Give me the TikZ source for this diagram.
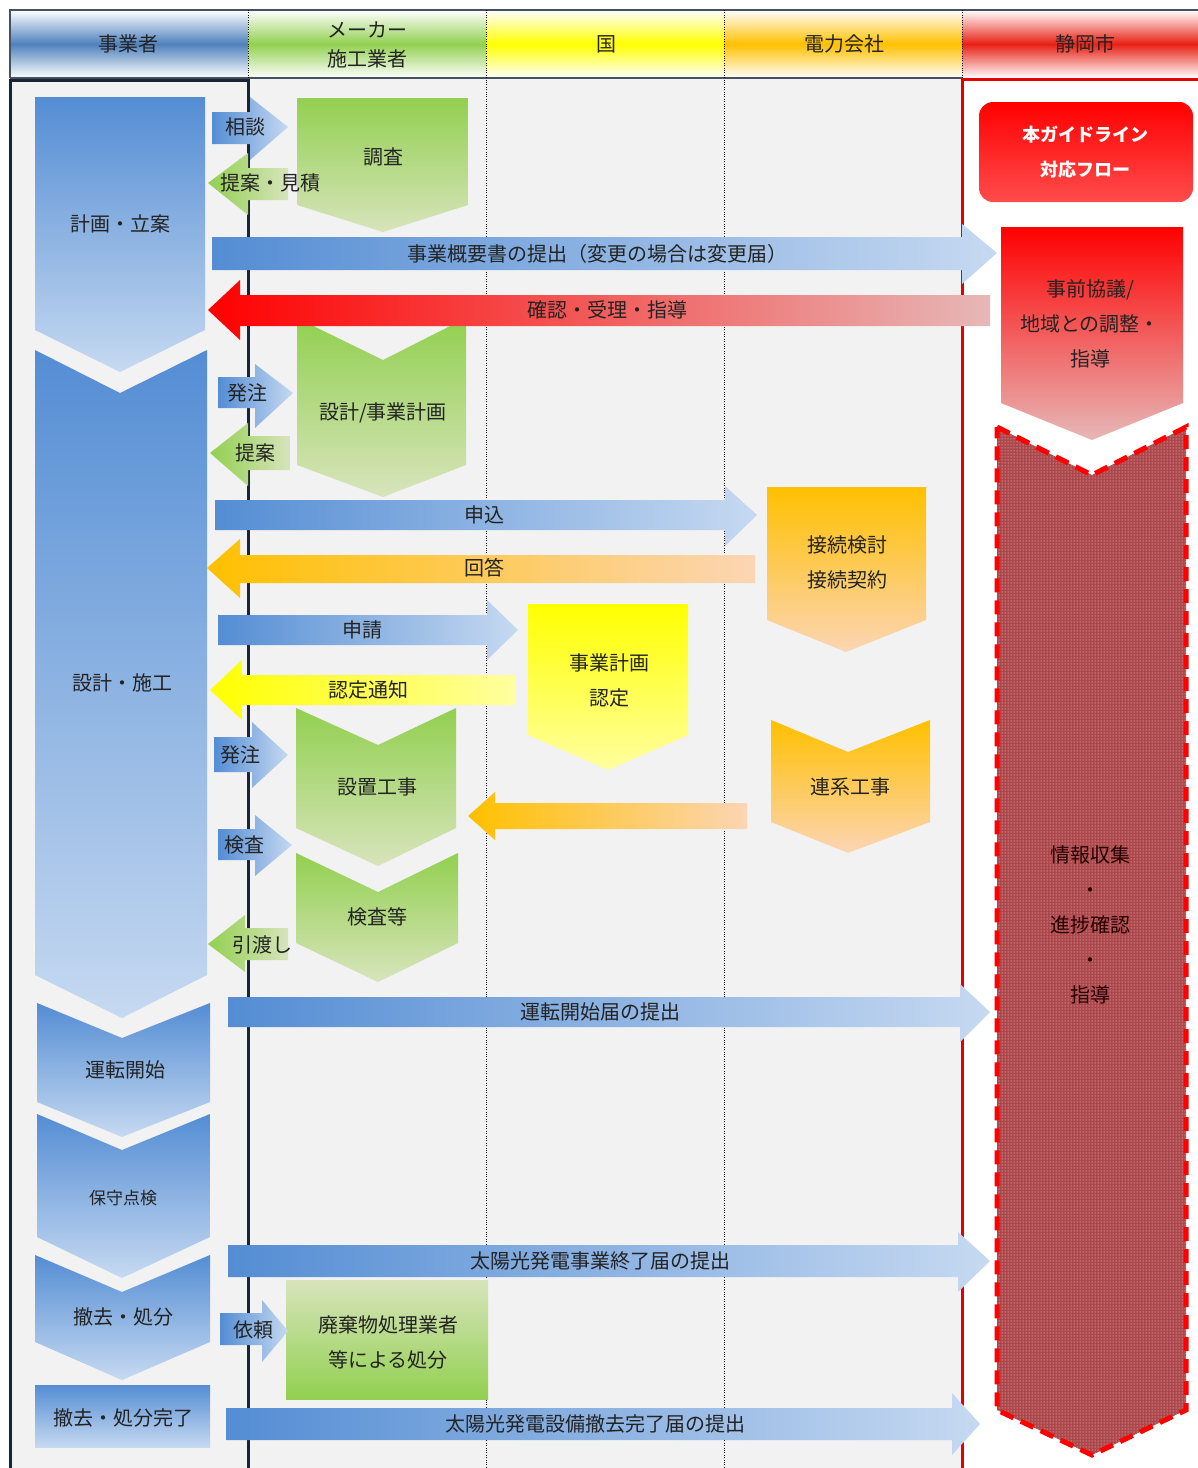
\documentclass[tikz,border=0pt]{standalone}
\usepackage{fontspec}
\setmainfont{Noto Sans CJK JP}
\usetikzlibrary{patterns}

\definecolor{bgray}{RGB}{242,242,242}
\definecolor{frame}{RGB}{23,37,55}
\definecolor{txt}{RGB}{35,35,35}
\definecolor{bblue}{RGB}{84,141,212}
\definecolor{blight}{RGB}{198,217,241}
\definecolor{hblue}{RGB}{79,129,189}
\definecolor{ggreen}{RGB}{146,208,80}
\definecolor{glight}{RGB}{216,228,188}
\definecolor{yyel}{RGB}{255,255,0}
\definecolor{ylight}{RGB}{255,255,160}
\definecolor{oorange}{RGB}{255,192,0}
\definecolor{olight}{RGB}{252,213,180}
\definecolor{rred}{RGB}{255,0,0}
\definecolor{rlight}{RGB}{230,184,183}
\definecolor{hred}{RGB}{232,32,20}
\definecolor{dotred}{RGB}{172,72,76}

\begin{document}
\begin{tikzpicture}[x=1pt,y=-1pt,
  every node/.style={text=txt, inner sep=0pt, align=center, font=\fontsize{20}{35}\selectfont},
  blueR/.style={left color=bblue, right color=blight},
  greenL/.style={left color=ggreen, right color=glight},
  yelL/.style={left color=yyel, right color=ylight},
  orangeL/.style={left color=oorange, right color=olight},
  redL/.style={left color=rred, right color=rlight},
  blueD/.style={top color=bblue, bottom color=blight},
  greenD/.style={top color=ggreen, bottom color=glight},
  yelD/.style={top color=yyel, bottom color=ylight},
  orangeD/.style={top color=oorange, bottom color=olight},
  redD/.style={top color=rred, bottom color=rlight},
  head/.style={top color=white, bottom color=white, middle color=#1}]
\useasboundingbox (0,0) rectangle (1198,1468);
\fill[white] (0,0) rectangle (1198,1468);
\fill[bgray] (10,78) rectangle (962,1468);

% header
\shade[head=hblue] (10,10) rectangle (248,78);
\shade[head=ggreen] (248,10) rectangle (486,78);
\shade[head=yyel] (486,10) rectangle (724,78);
\shade[head=oorange] (724,10) rectangle (962,78);
\shade[head=hred] (962,10) rectangle (1198,78);
\path[draw, line width=1.5pt, color=frame!80] (10,78) -- (10,10) -- (1198,10);
\path[draw, line width=1.5pt, color=frame!80] (10,78) -- (962,78);

\path (128,44) node (hJigyo) {事業者};
\path (367,45) node[font=\fontsize{20}{29}\selectfont] (hMaker) {メーカー\\施工業者};
\path (606,44) node (hKuni) {国};
\path (844,44) node (hDenryoku) {電力会社};
\path (1085,44) node (hShi) {静岡市};

% lanes
\path[draw, dotted] (248,10) -- (248,78);
\path[draw, dotted] (486,10) -- (486,1468);
\path[draw, dotted] (724,10) -- (724,1468);
\path[draw, dotted] (962,10) -- (962,78);
\path[draw, line width=3pt, color=frame] (10,1468) -- (10,80) -- (248,80) -- (248,1468);
\path[draw, line width=3pt, color=rred!90!black] (962,1468) -- (962,79) -- (1198,79);

% jigyosha
\shade[blueD] (35,97) -- (205,97) -- (205,330) -- (120,372) -- (35,330) -- cycle;
\shade[blueD] (35,350) -- (120,393) -- (207,350) -- (207,975) -- (122,1018) -- (35,975) -- cycle;
\shade[blueD] (37,1003) -- (122,1038) -- (210,1003) -- (210,1102) -- (122,1137) -- (37,1102) -- cycle;
\shade[blueD] (37,1114) -- (122,1150) -- (210,1114) -- (210,1237) -- (122,1278) -- (37,1237) -- cycle;
\shade[blueD] (35,1255) -- (122,1292) -- (210,1255) -- (210,1342) -- (122,1380) -- (35,1342) -- cycle;
\shade[blueD] (35,1385) rectangle (210,1447);

% maker
\shade[greenD] (297,98) -- (468,98) -- (468,205) -- (383,232) -- (297,205) -- cycle;
\shade[greenD] (297,318) -- (383,360) -- (466,318) -- (466,465) -- (383,497) -- (297,465) -- cycle;
\shade[greenD] (296,708) -- (378,745) -- (456,708) -- (456,828) -- (378,866) -- (296,828) -- cycle;
\shade[greenD] (296,853) -- (378,892) -- (458,853) -- (458,943) -- (378,982) -- (296,943) -- cycle;
\shade[top color=glight, bottom color=ggreen] (286,1280) rectangle (488,1399);

% kuni, denryoku
\shade[yelD] (528,604) -- (688,604) -- (688,735) -- (608,770) -- (528,735) -- cycle;
\shade[orangeD] (767,487) -- (926,487) -- (926,620) -- (846,652) -- (767,620) -- cycle;
\shade[orangeD] (771,720) -- (848,752) -- (930,720) -- (930,822) -- (848,853) -- (771,822) -- cycle;

% shizuoka
\shade[top color=rred, bottom color=rred!70!white, rounded corners=14pt] (979,102) rectangle (1193,202);
\shade[redD] (1001,227) -- (1183,227) -- (1183,403) -- (1092,440) -- (1001,403) -- cycle;
\fill[dotred] (997,427) -- (1092,475) -- (1186,427) -- (1186,1410) -- (1092,1455) -- (997,1410) -- cycle;
\fill[pattern=dots, pattern color=white!85!red] (997,427) -- (1092,475) -- (1186,427) -- (1186,1410) -- (1092,1455) -- (997,1410) -- cycle;
\path[draw, color=rred, line width=5pt, dash pattern=on 14pt off 8pt] (997,427) -- (1092,475) -- (1186,427) -- (1186,1410) -- (1092,1455) -- (997,1410) -- cycle;

% arrows to the right
\shade[blueR] (212,112) -- (250,112) -- (250,97) -- (288,127) -- (250,160) -- (250,144) -- (212,144) -- cycle;
\shade[blueR] (212,237) -- (962,237) -- (962,224) -- (997,253) -- (962,284) -- (962,270) -- (212,270) -- cycle;
\shade[blueR] (218,377) -- (255,377) -- (255,364) -- (293,393) -- (255,428) -- (255,408) -- (218,408) -- cycle;
\shade[blueR] (215,500) -- (725,500) -- (725,486) -- (757,515) -- (725,546) -- (725,530) -- (215,530) -- cycle;
\shade[blueR] (218,615) -- (487,615) -- (487,600) -- (518,630) -- (487,660) -- (487,645) -- (218,645) -- cycle;
\shade[blueR] (214,737) -- (252,737) -- (252,722) -- (288,755) -- (252,788) -- (252,772) -- (214,772) -- cycle;
\shade[blueR] (218,829) -- (255,829) -- (255,815) -- (292,845) -- (255,876) -- (255,860) -- (218,860) -- cycle;
\shade[blueR] (228,997) -- (960,997) -- (960,984) -- (990,1012) -- (960,1042) -- (960,1027) -- (228,1027) -- cycle;
\shade[blueR] (228,1245) -- (958,1245) -- (958,1232) -- (990,1261) -- (958,1292) -- (958,1277) -- (228,1277) -- cycle;
\shade[blueR] (220,1313) -- (262,1313) -- (262,1300) -- (288,1331) -- (262,1362) -- (262,1345) -- (220,1345) -- cycle;
\shade[blueR] (226,1408) -- (952,1408) -- (952,1393) -- (980,1424) -- (952,1455) -- (952,1440) -- (226,1440) -- cycle;

% arrows to the left
\shade[greenL] (208,183) -- (248,153) -- (248,168) -- (288,168) -- (288,200) -- (248,200) -- (248,215) -- cycle;
\shade[redL] (208,310) -- (240,280) -- (240,295) -- (990,295) -- (990,326) -- (240,326) -- (240,340) -- cycle;
\shade[greenL] (210,453) -- (248,423) -- (248,436) -- (290,436) -- (290,470) -- (248,470) -- (248,486) -- cycle;
\shade[orangeL] (207,568) -- (240,539) -- (240,555) -- (755,555) -- (755,583) -- (240,583) -- (240,598) -- cycle;
\shade[yelL] (210,690) -- (242,660) -- (242,675) -- (515,675) -- (515,705) -- (242,705) -- (242,720) -- cycle;
\shade[orangeL] (468,816) -- (495,792) -- (495,803) -- (747,803) -- (747,829) -- (495,829) -- (495,840) -- cycle;
\shade[greenL] (208,944) -- (245,915) -- (245,928) -- (288,928) -- (288,960) -- (245,960) -- (245,972) -- cycle;

% texts
\path (120,224) node (keikaku) {計画・立案};
\path (122,683) node (sekou) {設計・施工};
\path (125,1070) node (unten) {運転開始};
\path (123,1198) node[font=\fontsize{17}{20}\selectfont] (hoshu) {保守点検};
\path (123,1317) node (tekkyo) {撤去・処分};
\path (123,1418) node (kanryo) {撤去・処分完了};

\path (383,157) node (chosa) {調査};
\path (383,413) node (sekkei) {設計/事業計画};
\path (377,787) node (setchi) {設置工事};
\path (377,917) node (kensaTo) {検査等};
\path (388,1342) node (haiki) {廃棄物処理業者\\等による処分};
\path (609,680) node (nintei) {事業計画\\認定};
\path (847,562) node (setsuzoku) {接続検討\\接続契約};
\path (850,787) node (renkei) {連系工事};

\path (1085,152) node[text=white, font=\fontsize{18}{35}\selectfont\bfseries] (guide) {本ガイドライン\\対応フロー};
\path (1090,324) node (jizen) {事前協議/\\地域との調整・\\指導};
\path (1090,925) node[text=black!85!red] (joho) {情報収集\\・\\進捗確認\\・\\指導};

\path (245,127) node (sodan) {相談};
\path (270,183) node (teian1) {提案・見積};
\path (597,254) node (gaiyo) {事業概要書の提出（変更の場合は変更届）};
\path (607,310) node (kakunin) {確認・受理・指導};
\path (247,393) node (hatchu1) {発注};
\path (255,453) node (teian2) {提案};
\path (484,515) node (moshikomi) {申込};
\path (484,568) node (kaito) {回答};
\path (362,630) node (shinsei) {申請};
\path (368,690) node (tsuchi) {認定通知};
\path (240,755) node (hatchu2) {発注};
\path (244,845) node (kensa) {検査};
\path (262,945) node (hikiwatashi) {引渡し};
\path (600,1012) node (kaishi) {運転開始届の提出};
\path (600,1261) node (shuryo) {太陽光発電事業終了届の提出};
\path (253,1330) node (irai) {依頼};
\path (595,1424) node (tekkyoTodoke) {太陽光発電設備撤去完了届の提出};
\end{tikzpicture}
\end{document}
